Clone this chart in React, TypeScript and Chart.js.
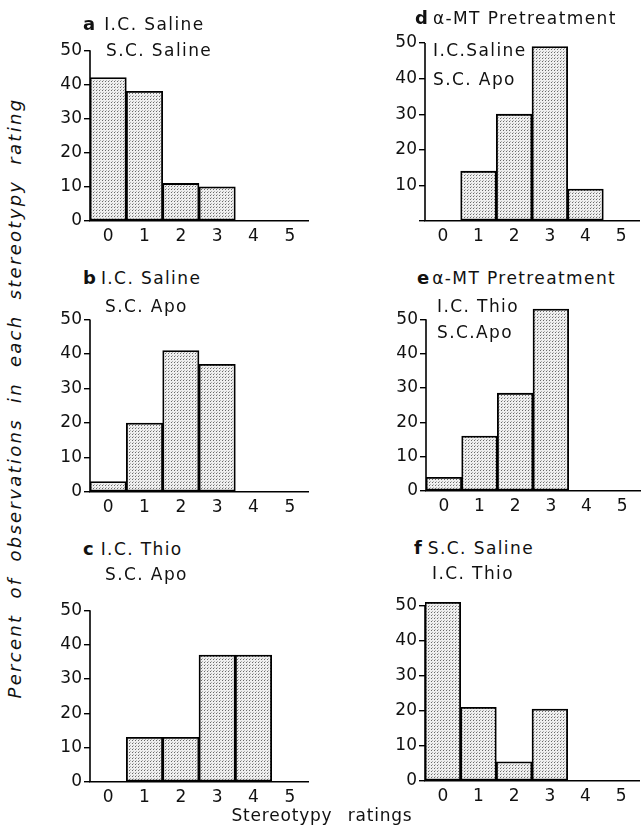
import React, { useEffect, useRef } from "react";
import { Chart, registerables } from "chart.js";

Chart.register(...registerables);

// ---------- data ----------
const ratings = ["0", "1", "2", "3", "4", "5"];
const yTickValues = [0, 10, 20, 30, 40, 50];
const panelA = [42, 38, 11, 10, 0, 0];
const panelB = [3, 20, 41, 37, 0, 0];
const panelC = [0, 13, 13, 37, 37, 0];
const panelD = [0, 14, 30, 49, 9, 0];
const panelE = [4, 16, 28.5, 53, 0, 0];
const panelF = [51, 21, 5.5, 20.5, 0, 0];

const yTitle = "Percent of observations in each stereotypy rating";
const xTitle = "Stereotypy ratings";

// ---------- layout ----------
const FONT = "'DejaVu Sans', sans-serif";
const YW = 48; // y axis width
const XH = 30; // x axis height
const PT = 4;
const PR = 4;

type Lay = { left: number; zero: number; unit: number; bin: number };

const layA: Lay = { left: 90, zero: 221, unit: 35.6, bin: 36.3 };
const layB: Lay = { left: 90, zero: 492, unit: 36, bin: 36.3 };
const layC: Lay = { left: 90, zero: 782, unit: 35.8, bin: 36.3 };
const layD: Lay = { left: 425, zero: 220, unit: 37, bin: 35.7 };
const layE: Lay = { left: 426, zero: 491, unit: 35.8, bin: 35.7 };
const layF: Lay = { left: 425, zero: 781, unit: 36.5, bin: 35.7 };

function makePattern(ctx: CanvasRenderingContext2D) {
  const c = document.createElement("canvas");
  c.width = 3;
  c.height = 3;
  const p = c.getContext("2d")!;
  p.fillStyle = "#efefef";
  p.fillRect(0, 0, 3, 3);
  p.fillStyle = "#6a6a6a";
  p.fillRect(0, 0, 1, 1);
  p.fillStyle = "#b0b0b0";
  p.fillRect(1, 2, 1, 1);
  return ctx.createPattern(c, "repeat")!;
}

const yAxisLine = {
  id: "yAxisLine",
  afterDatasetsDraw(chart: any) {
    const { ctx, chartArea, scales } = chart;
    const y = scales.y;
    ctx.save();
    ctx.strokeStyle = "#000";
    ctx.lineWidth = 1.6;
    ctx.beginPath();
    ctx.moveTo(chartArea.left, y.getPixelForValue(0));
    ctx.lineTo(chartArea.left, y.getPixelForValue(50));
    ctx.stroke();
    ctx.restore();
  },
};

function Panel({ data, lay, hideZero }: { data: number[]; lay: Lay; hideZero?: boolean }) {
  const ref = useRef<HTMLCanvasElement>(null);
  const plotH = 5.5 * lay.unit;
  const w = Math.round(YW + 6 * lay.bin + PR);
  const h = Math.round(PT + plotH + XH);
  useEffect(() => {
    const canvas = ref.current!;
    const ctx = canvas.getContext("2d")!;
    const pat = makePattern(ctx);
    const chart = new Chart(canvas, {
      type: "bar",
      data: {
        labels: ratings,
        datasets: [
          {
            data,
            backgroundColor: pat as any,
            borderColor: "#000",
            borderWidth: 1.8,
            borderSkipped: false,
            categoryPercentage: 1,
            barPercentage: 1,
          },
        ],
      },
      options: {
        responsive: false,
        animation: false,
        devicePixelRatio: 1,
        layout: { padding: { top: PT, right: PR, left: 0, bottom: 0 } },
        plugins: { legend: { display: false }, tooltip: { enabled: false }, title: { display: false } },
        scales: {
          x: {
            type: "category",
            grid: { display: false, drawTicks: false },
            border: { display: true, color: "#000", width: 1.6 },
            ticks: { color: "#111", font: { family: FONT, size: 17 }, padding: 5, maxRotation: 0, autoSkip: false },
            afterFit: (s: any) => {
              s.height = XH;
            },
          },
          y: {
            type: "linear",
            min: 0,
            max: 55,
            grid: { display: true, drawOnChartArea: false, drawTicks: true, tickLength: 6, color: "#000", lineWidth: 1.4 },
            border: { display: false },
            afterBuildTicks: (s: any) => {
              s.ticks = yTickValues.map((v) => ({ value: v }));
            },
            ticks: {
              color: "#111",
              font: { family: FONT, size: 17 },
              padding: 2,
              callback: (v: any) => (hideZero && Number(v) === 0 ? "" : String(v)),
            },
            afterFit: (s: any) => {
              s.width = YW;
            },
          },
        },
      },
      plugins: [yAxisLine],
    });
    return () => chart.destroy();
  }, []);
  return (
    <canvas
      ref={ref}
      width={w}
      height={h}
      style={{ position: "absolute", left: lay.left - YW, top: Math.round(lay.zero - plotH - PT), width: w, height: h }}
    />
  );
}

function Label({ x, cy, letter, text, gap = 4 }: { x: number; cy: number; letter?: string; text: string; gap?: number }) {
  return (
    <div
      style={{
        position: "absolute",
        left: x,
        top: cy - 11,
        height: 22,
        lineHeight: "22px",
        fontFamily: FONT,
        fontSize: 17,
        letterSpacing: 1.4,
        color: "#111",
        whiteSpace: "nowrap",
      }}
    >
      {letter ? <b style={{ fontSize: 18, marginRight: gap, letterSpacing: 0 }}>{letter}</b> : null}
      {text}
    </div>
  );
}

export default function App() {
  return (
    <div style={{ position: "absolute", left: 0, top: 0, width: 641, height: 833, background: "#fff", overflow: "hidden" }}>
      <Panel data={panelA} lay={layA} />
      <Panel data={panelB} lay={layB} />
      <Panel data={panelC} lay={layC} />
      <Panel data={panelD} lay={layD} hideZero />
      <Panel data={panelE} lay={layE} />
      <Panel data={panelF} lay={layF} />

      <Label x={83} cy={24} letter="a" text="I.C. Saline" gap={9} />
      <Label x={106} cy={50} text="S.C. Saline" />
      <Label x={83} cy={278} letter="b" text="I.C. Saline" gap={5} />
      <Label x={105} cy={306} text="S.C. Apo" />
      <Label x={83} cy={549} letter="c" text="I.C. Thio" gap={7} />
      <Label x={105} cy={574} text="S.C. Apo" />

      <Label x={415} cy={18} letter="d" text="α-MT Pretreatment" gap={5} />
      <Label x={433} cy={50} text="I.C.Saline" />
      <Label x={433} cy={79} text="S.C. Apo" />
      <Label x={417} cy={278} letter="e" text="α-MT Pretreatment" gap={3} />
      <Label x={437} cy={306} text="I.C. Thio" />
      <Label x={437} cy={332} text="S.C.Apo" />
      <Label x={414} cy={548} letter="f" text="S.C. Saline" gap={6} />
      <Label x={432} cy={573} text="I.C. Thio" />

      <div
        style={{
          position: "absolute",
          left: 15 - 330,
          top: 398 - 12,
          width: 660,
          height: 24,
          lineHeight: "24px",
          textAlign: "center",
          transform: "rotate(-90deg)",
          fontFamily: FONT,
          fontStyle: "italic",
          fontSize: 18,
          letterSpacing: 2.3,
          wordSpacing: 7,
          color: "#111",
          whiteSpace: "nowrap",
        }}
      >
        {yTitle}
      </div>
      <div
        style={{
          position: "absolute",
          left: 322 - 150,
          top: 815 - 11,
          width: 300,
          height: 22,
          lineHeight: "22px",
          textAlign: "center",
          fontFamily: FONT,
          fontSize: 17,
          letterSpacing: 0.8,
          wordSpacing: 9,
          color: "#111",
          whiteSpace: "nowrap",
        }}
      >
        {xTitle}
      </div>
    </div>
  );
}
